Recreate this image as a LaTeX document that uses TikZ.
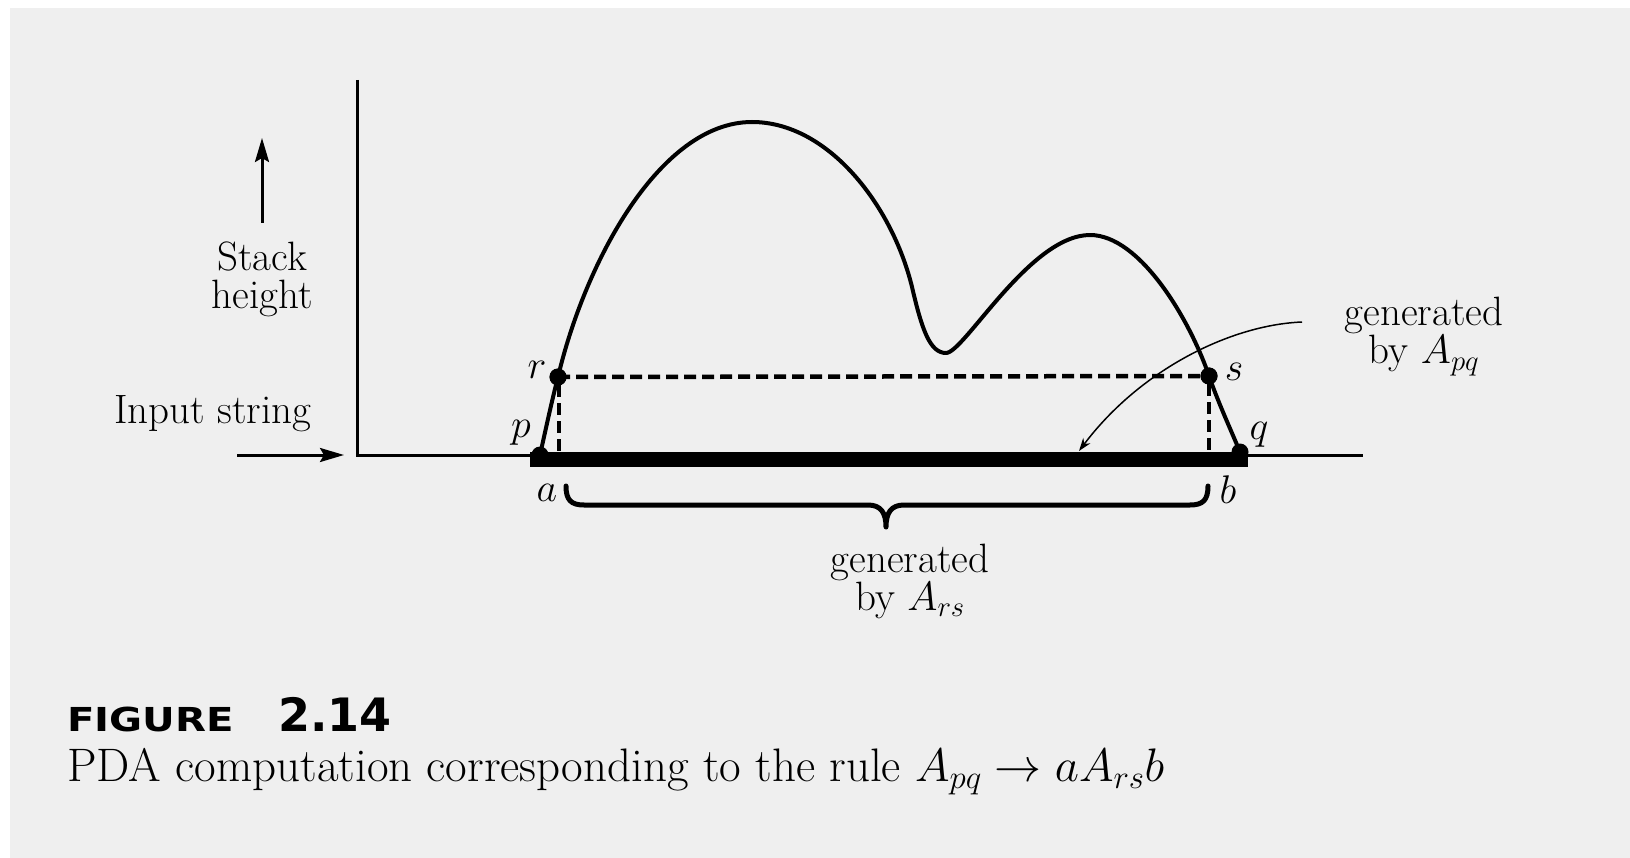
\RequirePackage{fix-cm}
\documentclass[tikz,border=0pt]{standalone}
\usepackage{fontspec}
\newfontfamily\figfont{DejaVu Sans}
\usetikzlibrary{arrows.meta}
\definecolor{paper}{RGB}{239,239,239}
\newcommand{\heavytext}{\addfontfeatures{FakeBold=3}}
\tikzset{
  axisline/.style={line width=3pt},
  curveline/.style={line width=4pt, line join=round},
  dashline/.style={line width=4.5pt, dash pattern=on 12pt off 6pt},
  dotnode/.style={circle, fill=black, inner sep=0pt, minimum size=17pt},
  lbl/.style={font=\fontsize{40}{44}\selectfont, inner sep=0pt},
  txt/.style={font=\fontsize{41}{45}\selectfont\heavytext, inner sep=0pt, anchor=base},
  captxt/.style={font=\fontsize{47}{51}\selectfont\heavytext, inner sep=0pt, anchor=base west},
  bigarrow/.style={line width=3pt, -{Stealth[length=24pt,width=14pt,inset=4pt]}},
  thinarrow/.style={line width=1.5pt, -{Stealth[length=13pt,width=9pt]}},
  bracestyle/.style={line width=5pt, line cap=round, line join=round},
}
\begin{document}
\begin{tikzpicture}[x=1pt,y=-1pt]
\fill[white] (0,0) rectangle (1630,858);
\fill[paper] (10,8) rectangle (1630,858);
\useasboundingbox (0,0) rectangle (1630,858);

% axes
\coordinate (origin) at (357,455);
\coordinate (ytop) at (357,80);
\coordinate (xend) at (1363,455);
\draw[axisline] (ytop) -- (origin) -- (xend);

% input string arrow and stack height arrow
\coordinate (inS) at (237,455);
\coordinate (inE) at (344,455);
\draw[bigarrow] (inS) -- (inE);
\coordinate (stS) at (262,223);
\coordinate (stE) at (262,138);
\draw[bigarrow] (stS) -- (stE);

\node[txt] (stack) at (262,271) {Stack};
\node[txt] (height) at (262,309) {height};
\node[txt, anchor=base west] (input) at (114,423) {Input string};

% thick bar (the input read)
\node[fill=black, inner sep=0pt, minimum width=718pt, minimum height=15pt, anchor=north west] (bar) at (530,452) {};

% dots
\node[dotnode] (p) at (540,455) {};
\node[dotnode] (r) at (558,377) {};
\node[dotnode] (s) at (1209,376) {};
\node[dotnode] (q) at (1240,452) {};

% stack-height curve
\coordinate (peakA) at (752,122);
\coordinate (dropA) at (912,287);
\coordinate (valley) at (946,353);
\coordinate (peakB) at (1090,235);
\draw[curveline] (p.center) .. controls (546,428) and (552,400) .. (r.center)
  .. controls (585,262) and (660,122) .. (peakA)
  .. controls (828,122) and (892,205) .. (dropA)
  .. controls (922,330) and (930,353) .. (valley)
  .. controls (964,353) and (1030,235) .. (peakB)
  .. controls (1140,235) and (1190,320) .. (s.center)
  .. controls (1218,402) and (1230,428) .. (q.center);
\node[dotnode] at (r) {};
\node[dotnode] at (s) {};

% dashed lines
\coordinate (ra) at (559,452);
\coordinate (sb) at (1209,452);
\draw[dashline] (r.center) -- (s.center);
\draw[dashline] (r.center) ++(1,8) -- (ra);
\draw[dashline] (s.center) ++(0,8) -- (sb);

% point labels
\node[lbl] (rl) at (537,370) {$r$};
\node[lbl] (pl) at (521,433) {$p$};
\node[lbl] (al) at (547,493) {$a$};
\node[lbl] (sl) at (1234,372) {$s$};
\node[lbl] (ql) at (1259,435) {$q$};
\node[lbl] (bl) at (1228,490) {$b$};

% brace
\draw[bracestyle] (566,486) .. controls (566,500) and (571,505) .. (584,505)
  -- (868,505) .. controls (881,505) and (886,513) .. (886,527)
  .. controls (886,513) and (891,505) .. (904,505)
  -- (1190,505) .. controls (1203,505) and (1208,500) .. (1208,486);

\node[txt] (g1) at (910,572) {generated};
\node[txt] (g2) at (910,610) {by $A_{rs}$};

% generated by A_pq
\node[txt] (h1) at (1424,326) {generated};
\node[txt] (h2) at (1424,364) {by $A_{pq}$};
\coordinate (arS) at (1302,322);
\coordinate (arE) at (1079,451);
\draw[thinarrow] (arS) .. controls (1230,325) and (1140,370) .. (arE);

% caption
\node[inner sep=0pt, anchor=base west] (fig) at (67,731) {\scalebox{1.22}[1]{\fontsize{33}{36}\figfont\bfseries FIGURE}};
\node[inner sep=0pt, anchor=base west] (num) at (278,731) {\fontsize{46}{50}\figfont\bfseries 2.14};
\node[captxt] (cap) at (67,781) {PDA computation corresponding to the rule $A_{pq}\rightarrow aA_{rs}b$};
\end{tikzpicture}
\end{document}
